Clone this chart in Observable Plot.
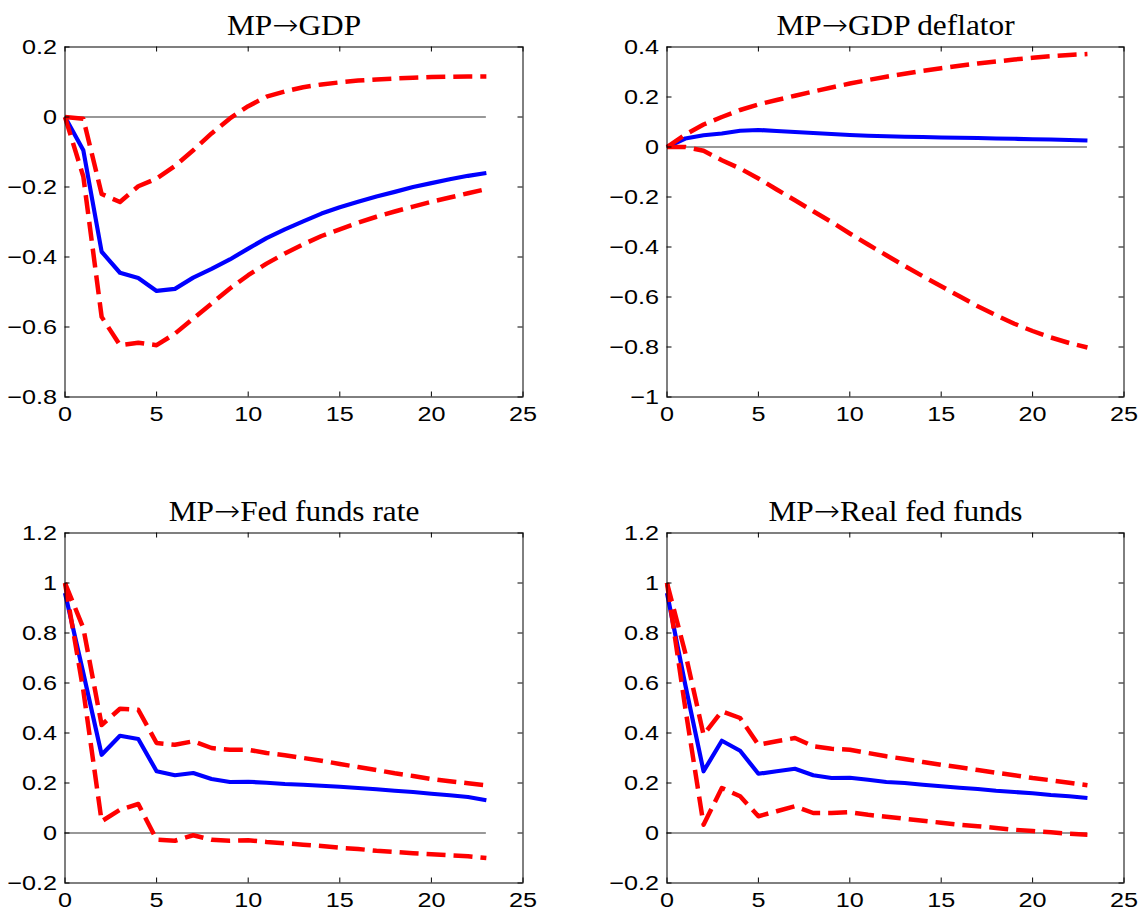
<!DOCTYPE html>
<html><head><meta charset="utf-8">
<script src="https://cdn.jsdelivr.net/npm/d3@7"></script>
<script src="https://cdn.jsdelivr.net/npm/@observablehq/plot@0.6"></script>
<style>
body{margin:0;background:#fff;}
#chart{position:relative;width:1141px;height:916px;background:#fff;overflow:hidden;}
#chart svg{position:absolute;}
</style></head><body><div id="chart"></div>
<script>
// ---- data ----
const horizon = [0,1,2,3,4,5,6,7,8,9,10,11,12,13,14,15,16,17,18,19,20,21,22,23];
const xTicks = [0,5,10,15,20,25];

const gdpTicks = [-0.8,-0.6,-0.4,-0.2,0,0.2];
const gdpMedian = [0,-0.095,-0.385,-0.445,-0.46,-0.497,-0.491,-0.459,-0.434,-0.407,-0.376,-0.346,-0.321,-0.298,-0.276,-0.258,-0.242,-0.227,-0.214,-0.2,-0.189,-0.178,-0.168,-0.16];
const gdpUpper  = [0,-0.005,-0.22,-0.243,-0.198,-0.176,-0.14,-0.095,-0.047,-0.004,0.031,0.058,0.073,0.085,0.093,0.099,0.104,0.107,0.11,0.112,0.114,0.115,0.116,0.116];
const gdpLower  = [0,-0.17,-0.571,-0.652,-0.645,-0.652,-0.619,-0.576,-0.533,-0.49,-0.452,-0.419,-0.39,-0.364,-0.34,-0.321,-0.302,-0.285,-0.27,-0.256,-0.242,-0.23,-0.218,-0.206];

const deflTicks = [-1,-0.8,-0.6,-0.4,-0.2,0,0.2,0.4];
const deflMedian = [0,0.034,0.047,0.054,0.065,0.068,0.064,0.06,0.056,0.052,0.048,0.045,0.043,0.041,0.04,0.038,0.037,0.036,0.034,0.033,0.031,0.03,0.028,0.026];
const deflUpper  = [0,0.05,0.09,0.12,0.148,0.17,0.188,0.205,0.222,0.238,0.254,0.268,0.281,0.293,0.305,0.315,0.325,0.334,0.342,0.35,0.357,0.363,0.368,0.372];
const deflLower  = [0,0,-0.015,-0.053,-0.086,-0.126,-0.17,-0.213,-0.257,-0.3,-0.346,-0.39,-0.433,-0.476,-0.517,-0.557,-0.597,-0.637,-0.673,-0.707,-0.736,-0.762,-0.784,-0.802];

const rateTicks = [-0.2,0,0.2,0.4,0.6,0.8,1,1.2];
const ffrMedian = [0.96,0.64,0.313,0.389,0.376,0.247,0.231,0.24,0.216,0.204,0.205,0.201,0.196,0.193,0.189,0.185,0.18,0.175,0.169,0.164,0.157,0.151,0.144,0.131];
const ffrUpper  = [1,0.82,0.432,0.497,0.493,0.36,0.353,0.367,0.34,0.333,0.333,0.32,0.311,0.3,0.289,0.276,0.264,0.252,0.239,0.228,0.216,0.207,0.199,0.191];
const ffrLower  = [1,0.57,0.047,0.093,0.116,-0.027,-0.031,-0.009,-0.027,-0.031,-0.029,-0.036,-0.041,-0.047,-0.052,-0.059,-0.064,-0.071,-0.076,-0.081,-0.085,-0.089,-0.093,-0.1];

const rffMedian = [0.96,0.593,0.247,0.369,0.329,0.237,0.247,0.257,0.231,0.22,0.221,0.213,0.204,0.2,0.193,0.187,0.181,0.176,0.169,0.164,0.159,0.152,0.147,0.14];
const rffUpper  = [1,0.72,0.393,0.487,0.46,0.353,0.367,0.38,0.347,0.337,0.333,0.32,0.307,0.296,0.284,0.273,0.263,0.252,0.241,0.231,0.22,0.211,0.201,0.191];
const rffLower  = [1,0.5,0.033,0.18,0.147,0.067,0.087,0.107,0.08,0.08,0.083,0.073,0.065,0.057,0.049,0.041,0.033,0.027,0.02,0.013,0.008,0.003,-0.003,-0.007];

const titles = ["MP\u2192GDP","MP\u2192GDP deflator","MP\u2192Fed funds rate","MP\u2192Real fed funds"];

// ---- layout ----
const panels = [
  {title:titles[0], median:gdpMedian, upper:gdpUpper, lower:gdpLower, yDomain:[-0.8,0.2], yTicks:gdpTicks, left:0,   top:0,   width:570, height:458, mL:64.5, mR:47.5, mT:46.5, mB:61.5},
  {title:titles[1], median:deflMedian, upper:deflUpper, lower:deflLower, yDomain:[-1,0.4], yTicks:deflTicks, left:570, top:0,   width:571, height:458, mL:96.5, mR:17.5, mT:46.5, mB:61.5},
  {title:titles[2], median:ffrMedian, upper:ffrUpper, lower:ffrLower, yDomain:[-0.2,1.2], yTicks:rateTicks, left:0,   top:458, width:570, height:458, mL:64.5, mR:47.5, mT:74.5, mB:33.5},
  {title:titles[3], median:rffMedian, upper:rffUpper, lower:rffLower, yDomain:[-0.2,1.2], yTicks:rateTicks, left:570, top:458, width:571, height:458, mL:96.5, mR:17.5, mT:74.5, mB:33.5}
];

const fmt = d => d === 0 ? "0" : String(d).replace("-", "\u2212");
const TICK_STRETCH = 1.2, TITLE_STRETCH = 1.08, TICK_LEN = 5;

function stretchText(svg, selector, sx) {
  svg.querySelectorAll(selector).forEach(t => {
    let tr = t.getAttribute("transform") || "";
    const x = t.getAttribute("x");
    if (x != null && x !== "" && !isNaN(+x) && +x !== 0) { tr += ` translate(${+x},0)`; }
    t.removeAttribute("x");
    t.setAttribute("transform", `${tr} scale(${sx},1)`);
  });
}

// long thin arrow, closer to the TeX \rightarrow of the original
function styleArrow(svg) {
  svg.querySelectorAll('g[aria-label="text"] text').forEach(t => {
    const s = t.textContent;
    const i = s.indexOf("\u2192");
    if (i < 0) return;
    const ns = "http://www.w3.org/2000/svg";
    t.textContent = "";
    t.appendChild(document.createTextNode(s.slice(0, i)));
    const a = document.createElementNS(ns, "tspan");
    a.setAttribute("font-family", "'DejaVu Sans'");
    a.setAttribute("font-weight", "200");
    a.setAttribute("font-size", "29");
    a.textContent = "\u2192";
    t.appendChild(a);
    t.appendChild(document.createTextNode(s.slice(i + 1)));
  });
}

const chart = document.getElementById("chart");
for (const p of panels) {
  const W = p.width - p.mL - p.mR, H = p.height - p.mT - p.mB;
  const rows = k => horizon.map((t, i) => ({t, v: p[k][i]}));
  const svg = Plot.plot({
    width: p.width, height: p.height,
    marginLeft: p.mL, marginRight: p.mR, marginTop: p.mT, marginBottom: p.mB,
    style: {fontFamily: "'Liberation Sans', Arial, sans-serif", fontSize: "21px", background: "white", color: "black"},
    x: {domain: [0, 25]},
    y: {domain: p.yDomain},
    marks: [
      Plot.ruleY([0], {x1: horizon[0], x2: horizon[horizon.length - 1], stroke: "#333", strokeWidth: 1.1}),
      Plot.line(rows("median"), {x: "t", y: "v", stroke: "#0000ff", strokeWidth: 4.2, strokeLinejoin: "round", strokeLinecap: "butt"}),
      Plot.line(rows("upper"), {x: "t", y: "v", stroke: "#ff0000", strokeWidth: 4.5, strokeDasharray: "19,8", strokeLinecap: "butt", strokeLinejoin: "round"}),
      Plot.line(rows("lower"), {x: "t", y: "v", stroke: "#ff0000", strokeWidth: 4.5, strokeDasharray: "19,8", strokeLinecap: "butt", strokeLinejoin: "round"}),
      Plot.frame({stroke: "black", strokeWidth: 1}),
      Plot.tickX(xTicks, {x: d => d, insetTop: H - TICK_LEN, stroke: "black", strokeWidth: 1}),
      Plot.tickX(xTicks, {x: d => d, insetBottom: H - TICK_LEN, stroke: "black", strokeWidth: 1}),
      Plot.tickY(p.yTicks, {y: d => d, insetRight: W - TICK_LEN, stroke: "black", strokeWidth: 1}),
      Plot.tickY(p.yTicks, {y: d => d, insetLeft: W - TICK_LEN, stroke: "black", strokeWidth: 1}),
      Plot.axisX({ticks: xTicks, tickSize: 0, tickPadding: 9, tickFormat: fmt, label: null, fontSize: 21}),
      Plot.axisY({ticks: p.yTicks, tickSize: 0, tickPadding: 8, tickFormat: fmt, label: null, fontSize: 21}),
      Plot.text([p.title], {text: d => d, frameAnchor: "top", dy: -12.5, lineAnchor: "bottom", fontFamily: "'Liberation Serif', 'Times New Roman', serif", fontSize: 29, fill: "black"})
    ]
  });
  stretchText(svg, 'g[aria-label="x-axis tick label"] text, g[aria-label="y-axis tick label"] text', TICK_STRETCH);
  styleArrow(svg);
  stretchText(svg, 'g[aria-label="text"] text', TITLE_STRETCH);
  svg.style.left = p.left + "px";
  svg.style.top = p.top + "px";
  chart.appendChild(svg);
}
</script></body></html>
